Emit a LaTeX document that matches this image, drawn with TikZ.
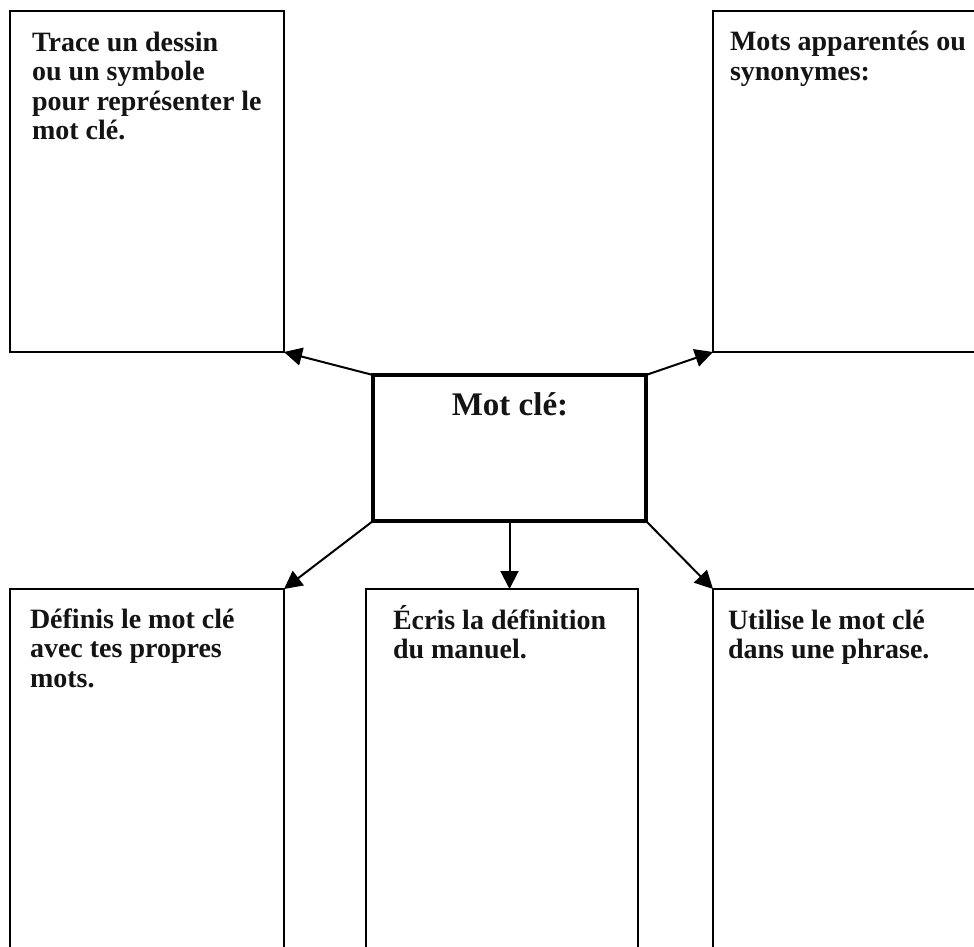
\documentclass[tikz,border=0pt]{standalone}
\usepackage{fontspec}
\setmainfont{Liberation Serif}
\usetikzlibrary{arrows.meta,calc}
\begin{document}
\begin{tikzpicture}[x=1pt,y=-1pt,
  box/.style={draw=black, line width=2.2pt, inner sep=0pt, outer sep=0pt},
  mainbox/.style={box, line width=3.2pt},
  lbl/.style={inner sep=0pt, outer sep=0pt, anchor=north west, align=left, text=black!92, font=\fontsize{28pt}{29.5pt}\selectfont\bfseries},
  conn/.style={line width=2pt, -{Triangle[length=18pt,width=18pt]}}
]
\useasboundingbox (0,0) rectangle (974,947);
\clip (0,0) rectangle (974,947);
% boxes
\node[box, minimum width=274pt, minimum height=341pt] (tl) at (147,181.5) {};
\node[box, minimum width=287pt, minimum height=341pt] (tr) at (856.5,181.5) {};
\node[mainbox, minimum width=273pt, minimum height=146pt] (c) at (509.5,448) {};
\node[box, minimum width=274pt, minimum height=391pt] (bl) at (147,784.5) {};
\node[box, minimum width=272pt, minimum height=391pt] (bm) at (502,784.5) {};
\node[box, minimum width=287pt, minimum height=391pt] (br) at (856.5,784.5) {};
% texts
\node[lbl] (tltxt) at (32,24) {\rule{0pt}{27pt}Trace un dessin\\ou un symbole\\pour représenter le\\mot clé.};
\node[lbl] (trtxt) at (730,24) {\rule{0pt}{27pt}Mots apparentés ou\\synonymes:};
\node[inner sep=0pt, anchor=base, text=black!92, font=\fontsize{33pt}{36pt}\selectfont\bfseries] (ctxt) at (510,415) {Mot clé:};
\node[lbl] (bltxt) at (30,601) {\rule{0pt}{27pt}Définis le mot clé\\avec tes propres\\mots.};
\node[lbl] (bmtxt) at (393,602) {\rule{0pt}{27pt}Écris la définition\\du manuel.};
\node[lbl] (brtxt) at (728,602) {\rule{0pt}{27pt}Utilise le mot clé\\dans une phrase.};
% connectors
\draw[conn] (c.north west) -- (tl.south east);
\draw[conn] (c.north east) -- (tr.south west);
\draw[conn] (c.south west) -- (bl.north east);
\draw[conn] (c.south) -- (c.south |- bm.north);
\draw[conn] (c.south east) -- (br.north west);
\end{tikzpicture}
\end{document}
